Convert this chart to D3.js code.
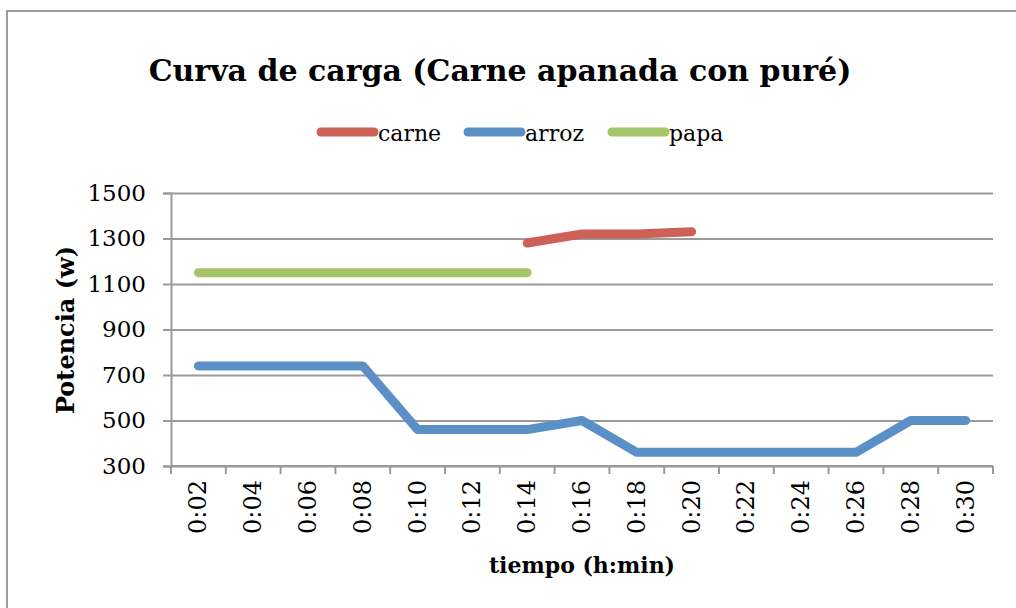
<!DOCTYPE html>
<html>
<head>
<meta charset="utf-8">
<script src="https://cdn.jsdelivr.net/npm/d3@7"></script>
<style>
  body { margin: 0; background: #fff; }
  svg { display: block; font-family: "DejaVu Serif", "Liberation Serif", serif; }
</style>
</head>
<body>
<svg id="chart" width="1016" height="608"></svg>
<script>
// categories (h:min)
const tiempos = ["0:02", "0:04", "0:06", "0:08", "0:10", "0:12", "0:14", "0:16",
                 "0:18", "0:20", "0:22", "0:24", "0:26", "0:28", "0:30"];
// series values (w), null = no reading
const carne = [null, null, null, null, null, null, 1280, 1320, 1320, 1330, null, null, null, null, null];
const arroz = [740, 740, 740, 740, 460, 460, 460, 500, 360, 360, 360, 360, 360, 500, 500];
const papa = [1150, 1150, 1150, 1150, 1150, 1150, 1150, null, null, null, null, null, null, null, null];
const yTicks = [300, 500, 700, 900, 1100, 1300, 1500];

const series = [
    { name: "carne", values: carne, color: "#CD6158" },
    { name: "arroz", values: arroz, color: "#5B90C7" },
    { name: "papa", values: papa, color: "#A6C468" }
];

const svg = d3.select("#chart");
const margin = { left: 171, right: 23, top: 193, bottom: 142 };
const width = 1016, height = 608;
const gridColor = "#9a9a9a";
const font = "'DejaVu Serif', serif";

// outer frame of the chart
svg.append("rect")
    .attr("x", 7).attr("y", 11)
    .attr("width", width + 20).attr("height", height + 20)
    .attr("fill", "none").attr("stroke", "#9c9c9c").attr("stroke-width", 2);

const x = d3.scaleBand()
    .domain(tiempos)
    .range([margin.left, width - margin.right]);

const y = d3.scaleLinear()
    .domain([300, 1500])
    .range([height - margin.bottom, margin.top]);

// horizontal grid + y axis
const yAxis = svg.append("g")
    .attr("transform", `translate(${margin.left},0)`)
    .call(d3.axisLeft(y).tickValues(yTicks).tickSize(8).tickPadding(17).tickFormat(d3.format("d")));
yAxis.select(".domain").attr("stroke", gridColor).attr("stroke-width", 2);
yAxis.selectAll(".tick line").attr("stroke", gridColor).attr("stroke-width", 2)
    .clone()
    .attr("x1", 0).attr("x2", width - margin.right - margin.left);
yAxis.selectAll(".tick text")
    .attr("font-size", 23).attr("fill", "#000")
    .attr("font-family", font);

// x axis with tick marks between categories
const xAxisG = svg.append("g")
    .attr("transform", `translate(0,${height - margin.bottom})`);
xAxisG.append("line")
    .attr("x1", margin.left).attr("x2", width - margin.right)
    .attr("stroke", gridColor).attr("stroke-width", 2);
const bounds = tiempos.map(d => x(d)).concat([x.range()[1]]);
xAxisG.selectAll(".xtick")
    .data(bounds)
    .enter()
    .append("line")
    .attr("x1", d => d).attr("x2", d => d)
    .attr("y1", 0).attr("y2", 8)
    .attr("stroke", gridColor).attr("stroke-width", 2);
xAxisG.selectAll(".xlabel")
    .data(tiempos)
    .enter()
    .append("text")
    .attr("transform", d => `translate(${x(d) + x.bandwidth() / 2 + 8},14) rotate(-90)`)
    .attr("text-anchor", "end")
    .attr("font-size", 24)
    .text(d => d);

// lines
const line = d3.line()
    .defined(d => d.v != null)
    .x(d => x(d.t) + x.bandwidth() / 2)
    .y(d => y(d.v));

series.forEach(s => {
    svg.append("path")
        .datum(tiempos.map((t, i) => ({ t: t, v: s.values[i] })))
        .attr("d", line)
        .attr("fill", "none")
        .attr("stroke", s.color)
        .attr("stroke-width", 9)
        .attr("stroke-linecap", "round")
        .attr("stroke-linejoin", "round");
});

// title
svg.append("text")
    .attr("x", 500).attr("y", 81)
    .attr("text-anchor", "middle")
    .attr("font-size", 30).attr("font-weight", "bold")
    .text("Curva de carga (Carne apanada con puré)");

// legend
const legendPos = [317, 464, 608];
series.forEach((s, i) => {
    const g = svg.append("g").attr("transform", `translate(${legendPos[i]},132)`);
    g.append("line")
        .attr("x1", 4).attr("x2", 57)
        .attr("stroke", s.color).attr("stroke-width", 9)
        .attr("stroke-linecap", "round");
    g.append("text")
        .attr("x", 61).attr("y", 9)
        .attr("font-size", 22)
        .text(s.name);
});

// axis titles
svg.append("text")
    .attr("transform", "translate(74,330) rotate(-90)")
    .attr("text-anchor", "middle")
    .attr("font-size", 24).attr("font-weight", "bold")
    .text("Potencia (w)");

svg.append("text")
    .attr("x", 582).attr("y", 573)
    .attr("text-anchor", "middle")
    .attr("font-size", 22).attr("font-weight", "bold")
    .text("tiempo (h:min)");
</script>
</body>
</html>
